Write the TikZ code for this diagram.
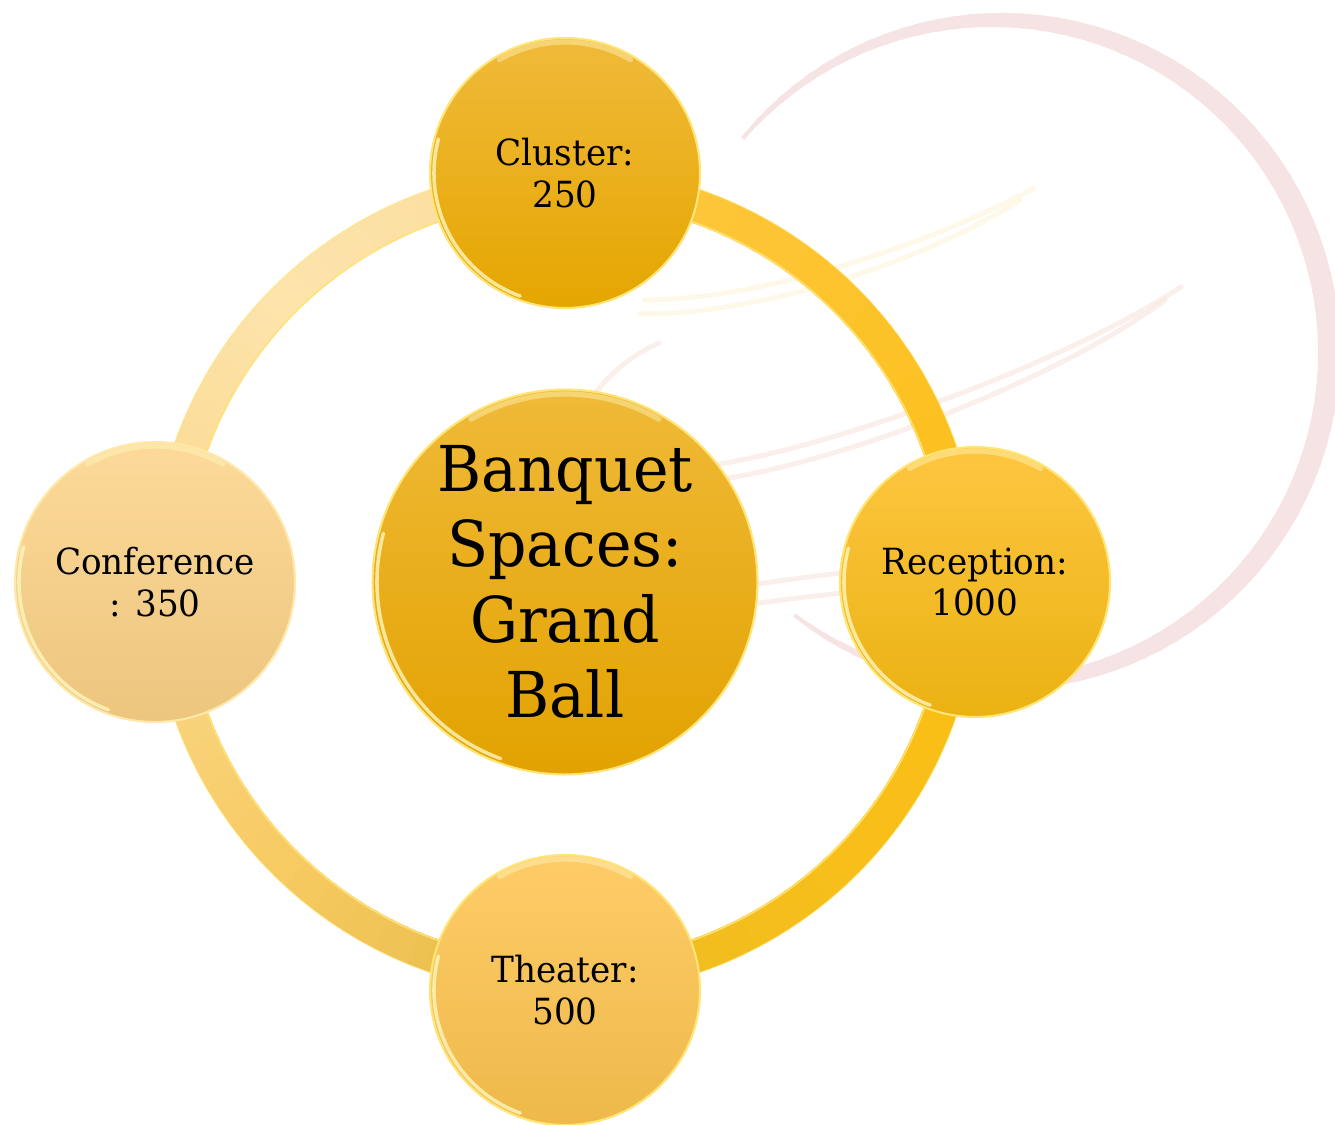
\documentclass[tikz,border=0pt]{standalone}
\usepackage{fontspec}
\setmainfont[FakeStretch=0.95]{DejaVu Serif}
\definecolor{rR}{RGB}{251,191,20}
\definecolor{rTR}{RGB}{253,197,53}
\definecolor{rT}{RGB}{253,200,62}
\definecolor{rTL}{RGB}{252,222,158}
\definecolor{rUL}{RGB}{252,228,172}
\definecolor{rCT}{RGB}{252,220,150}
\definecolor{rCB}{RGB}{249,212,126}
\definecolor{rBL}{RGB}{247,203,98}
\definecolor{rTH}{RGB}{238,193,82}
\definecolor{rTHR}{RGB}{242,189,30}
\definecolor{rBR}{RGB}{248,191,26}
\definecolor{cres}{RGB}{246,227,227}
\definecolor{swy}{RGB}{251,242,212}
\definecolor{swp}{RGB}{247,226,218}
\definecolor{rimc}{RGB}{255,228,120}
\definecolor{glossc}{RGB}{255,246,190}
\tikzset{
  bubble/.style={circle, inner sep=0pt, align=center, draw=rimc, line width=1.2pt, text=black},
  smalltxt/.style={font=\fontsize{20.5}{23.8}\selectfont},
  bigtxt/.style={font=\fontsize{36}{42.9}\selectfont},
  swoosh/.style={line width=0.1cm, line cap=round, opacity=0.55},
  gloss/.style={glossc, opacity=0.8, line width=2pt, line cap=round}
}
\newcommand{\mkgloss}[3]{% x y r
  \draw[gloss] (#1,#2) ++(110:#3) arc[start angle=110, end angle=195, radius=#3];
  \draw[gloss, opacity=0.45, line width=3pt] (#1,#2) ++(240:#3) arc[start angle=240, end angle=300, radius=#3];
}
\begin{document}
\begin{tikzpicture}[x=0.02cm,y=-0.02cm]
\useasboundingbox (0,0) rectangle (1335,1125);
% background crescent (tapering)
\foreach \t in {-140,-137,...,124}{
  \pgfmathsetmacro{\lw}{max(0.3, 22*cos(0.6*(\t+8)))*0.5669}
  \draw[cres, line width=\lw pt] (997,352) ++(\t:332) arc[start angle=\t, end angle=\t+3.6, radius=332];
}
% faint swooshes
\draw[swoosh, swy] (645,300) .. controls (760,300) and (930,245) .. (1034,188);
\draw[swoosh, swy] (640,314) .. controls (770,314) and (930,258) .. (1020,200);
\draw[swoosh, swp] (690,468) .. controls (800,458) and (1050,372) .. (1181,287);
\draw[swoosh, swp] (700,482) .. controls (820,470) and (1050,385) .. (1165,300);
\draw[swoosh, swp] (596,392) .. controls (612,372) and (632,355) .. (659,343);
\draw[swoosh, swp] (757,584) .. controls (785,580) and (815,576) .. (842,573);
\draw[swoosh, swp] (759,603) .. controls (787,599) and (815,596) .. (842,593);
% ring
\foreach \a/\b/\ca/\cb in {0/-60/rR/rTR, -60/-85/rTR/rT, -85/-97/rT/rTL, -97/-135/rTL/rUL, -135/-165/rUL/rCT, -165/-195/rCT/rCB, -195/-225/rCB/rBL, -225/-250/rBL/rTH, -250/-290/rTH/rTHR, -290/-315/rTHR/rBR, -315/-360/rBR/rR}{
  \foreach \i in {0,...,9}{
    \pgfmathsetmacro{\s}{\a+(\b-\a)*\i/10}
    \pgfmathsetmacro{\e}{\a+(\b-\a)*(\i+1)/10+((\b-\a)>0?0.6:-0.6)}
    \pgfmathtruncatemacro{\p}{95-10*\i}
    \draw[line width=0.68cm, color=\ca!\p!\cb] (565,581) ++(\s:397) arc[start angle=\s, end angle=\e, radius=397];
  }
}
\draw[rimc, opacity=0.9, line width=0.9pt] (565,581) circle[radius=381];
\draw[rimc, opacity=0.6, line width=0.6pt] (565,581) circle[radius=414];
% bubbles
\node[bubble, minimum size=5.4cm, top color={rgb,255:red,240;green,186;blue,58}, bottom color={rgb,255:red,229;green,166;blue,0}, smalltxt] (cluster) at (565,173) {Cluster:\\250};
\mkgloss{565}{173}{131}
\node[bubble, minimum size=5.4cm, top color={rgb,255:red,254;green,198;blue,64}, bottom color={rgb,255:red,234;green,178;blue,18}, smalltxt] (reception) at (975,582) {Reception:\\1000};
\mkgloss{975}{582}{131}
\node[bubble, minimum size=5.4cm, top color={rgb,255:red,254;green,204;blue,104}, bottom color={rgb,255:red,238;green,185;blue,74}, smalltxt] (theater) at (565,990) {Theater:\\500};
\mkgloss{565}{990}{131}
\node[bubble, minimum size=5.6cm, top color={rgb,255:red,253;green,218;blue,154}, bottom color={rgb,255:red,236;green,197;blue,126}, draw={rgb,255:red,255;green,232;blue,170}, smalltxt] (conference) at (155,582) {Conference\\: 350};
\mkgloss{155}{582}{136}
\node[bubble, minimum size=7.7cm, top color={rgb,255:red,240;green,186;blue,56}, middle color={rgb,255:red,243;green,183;blue,0}, bottom color={rgb,255:red,226;green,162;blue,0}, bigtxt] (center) at (565,582) {Banquet\\Spaces:\\Grand\\Ball};
\mkgloss{565}{582}{188}
\end{tikzpicture}
\end{document}
